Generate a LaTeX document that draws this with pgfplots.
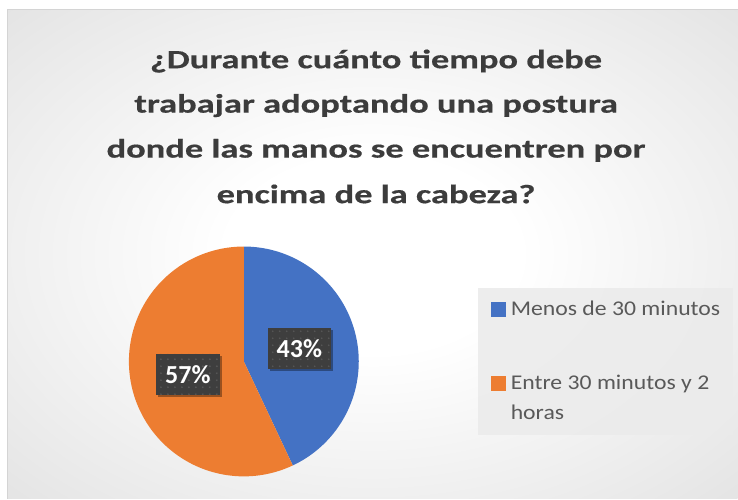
\documentclass[border=0pt]{standalone}
\usepackage{fontspec}
\setmainfont{Carlito}
\newfontfamily\titlefont[FakeStretch=1.376, BoldFeatures={FakeBold=0.5}]{Carlito}
\newfontfamily\legfont[FakeStretch=1.13]{Carlito}
\usepackage{pgfplots}
\pgfplotsset{compat=1.18}
\usetikzlibrary{patterns.meta,shadows}
\definecolor{pieblue}{HTML}{4472C4}
\definecolor{pieorange}{HTML}{ED7D31}
\definecolor{titlegray}{HTML}{3C3C3C}
\definecolor{leggray}{HTML}{595959}
\definecolor{boxgray}{HTML}{3E3E3E}
\definecolor{dotgray}{HTML}{585858}
\definecolor{bordergray}{HTML}{D4D4D4}
\definecolor{legbg}{HTML}{EBEBEB}
\definecolor{bgA}{HTML}{E8E8E8}
\definecolor{bgB}{HTML}{D4D4D4}
\definecolor{bgC}{HTML}{C8C8C8}
\pgfdeclareradialshading{chartbg}{\pgfpoint{0bp}{0bp}}{color(0bp)=(white); color(10bp)=(white); color(32bp)=(bgA); color(50bp)=(bgB); color(72bp)=(bgC)}
% pie data (percent)
\def\valA{43}
\def\valB{57}
\def\cx{244}
\def\cy{137.3}
\def\rr{115}
\begin{document}
\begin{tikzpicture}
\begin{axis}[
  x=1bp, y=1bp, xmin=0, xmax=738, ymin=0, ymax=499,
  scale only axis, hide axis, clip=false,
  legend style={at={(axis cs:491,198)}, anchor=north west, draw=none, fill=none,
    inner sep=0pt, outer sep=0pt, row sep=59bp, column sep=5.7bp,
    font=\legfont\fontsize{21bp}{30bp}\selectfont, text=leggray,
    cells={anchor=base west},
    nodes={inner sep=0pt, outer sep=0pt, text height=15bp, text depth=0bp}},
  legend image code/.code={\fill[#1] (0bp,0bp) rectangle (14bp,14bp);},
]
\fill[white] (axis cs:0,0) rectangle (axis cs:738,499);
\shade[shading=chartbg] (axis cs:8,0) rectangle (axis cs:738,489);
\draw[bordergray, line width=1bp] (axis cs:8,0) -- (axis cs:8,489) -- (axis cs:738,489);

% title
\node[font=\titlefont\bfseries\fontsize{26.5bp}{45bp}\selectfont, text=titlegray, anchor=base] at (axis cs:376.3,430.7) {¿Durante cuánto tiempo debe};
\node[font=\titlefont\bfseries\fontsize{26.5bp}{45bp}\selectfont, text=titlegray, anchor=base] at (axis cs:376.3,386.3) {trabajar adoptando una postura};
\node[font=\titlefont\bfseries\fontsize{26.5bp}{45bp}\selectfont, text=titlegray, anchor=base] at (axis cs:376.3,341.3) {donde las manos se encuentren por};
\node[font=\titlefont\bfseries\fontsize{26.5bp}{45bp}\selectfont, text=titlegray, anchor=base] at (axis cs:376.3,295.7) {encima de la cabeza?};

% legend background
\fill[legbg, opacity=0.85] (axis cs:478,64) rectangle (axis cs:733,211);

% pie slices
\addplot[forget plot, fill=pieblue, draw=none, domain={90-3.6*\valA}:90, samples=120, variable=\t]
  ({\cx+\rr*cos(\t)},{\cy+\rr*sin(\t)}) -- (axis cs:\cx,\cy) -- cycle;
\addplot[forget plot, fill=pieorange, draw=none, domain={90-3.6*(\valA+\valB)}:{90-3.6*\valA}, samples=150, variable=\t]
  ({\cx+\rr*cos(\t)},{\cy+\rr*sin(\t)}) -- (axis cs:\cx,\cy) -- cycle;

% data labels
\node[minimum width=63bp, minimum height=41bp, inner sep=0pt,
  drop shadow={shadow xshift=2.5bp, shadow yshift=-2.5bp, opacity=0.35, fill=black},
  preaction={fill=boxgray}, pattern={Dots[distance=7bp,radius=0.9bp]}, pattern color=dotgray,
  text=white, font=\bfseries\fontsize{26bp}{30bp}\selectfont] at (axis cs:299.5,150.5) {\valA\%};
\node[minimum width=64bp, minimum height=41bp, inner sep=0pt,
  drop shadow={shadow xshift=2.5bp, shadow yshift=-2.5bp, opacity=0.35, fill=black},
  preaction={fill=boxgray}, pattern={Dots[distance=7bp,radius=0.9bp]}, pattern color=dotgray,
  text=white, font=\bfseries\fontsize{26bp}{30bp}\selectfont] at (axis cs:188,124.5) {\valB\%};

\addlegendimage{pieblue}
\addlegendentry{Menos de 30 minutos}
\addlegendimage{pieorange}
\addlegendentry{\begin{tabular}[t]{@{}l@{}}Entre 30 minutos y 2\\horas\end{tabular}}
\end{axis}
\end{tikzpicture}
\end{document}
